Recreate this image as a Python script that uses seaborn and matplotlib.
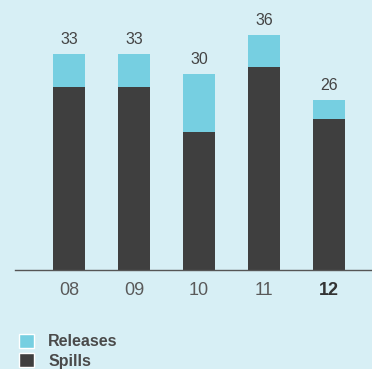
import matplotlib
matplotlib.use("Agg")
import matplotlib.pyplot as plt
import seaborn as sns
import pandas as pd
from matplotlib.patches import Patch

years = ["08", "09", "10", "11", "12"]
spills = [28, 28, 21, 31, 23]
releases = [5, 5, 9, 5, 3]
totals = [s + r for s, r in zip(spills, releases)]

BG = "#d7eff5"
LIGHT = "#76cfe1"
DARK = "#3f3f3f"

sns.set_theme(style="white")
plt.rcParams["font.family"] = ["Liberation Sans", "DejaVu Sans"]

df = pd.DataFrame({"year": years, "spills": spills, "releases": releases, "total": totals})

fig = plt.figure(figsize=(3.72, 3.69), dpi=100, facecolor=BG)
ax = fig.add_axes([15/372, (369-269.5)/369, 357/372, 261/369])
ax.set_facecolor(BG)

sns.barplot(data=df, x="year", y="total", color=LIGHT, width=0.49, saturation=1,
            linewidth=0, edgecolor="none", ax=ax)
sns.barplot(data=df, x="year", y="spills", color=DARK, width=0.49, saturation=1,
            linewidth=0, edgecolor="none", ax=ax)

ax.bar_label(ax.containers[0], labels=[str(t) for t in totals], padding=5,
             fontsize=11.5, color="#444444")

ax.set_ylim(0, 40)
ax.set_xlim(-0.83, 4.66)
ax.set_xlabel("")
ax.set_ylabel("")
ax.set_yticks([])
for s in ["top", "right", "left"]:
    ax.spines[s].set_visible(False)
ax.spines["bottom"].set_color("#555555")
ax.spines["bottom"].set_linewidth(1.0)
ax.tick_params(axis="x", length=0, pad=9, labelsize=13, labelcolor="#5a5a5a")
for lbl in ax.get_xticklabels():
    if lbl.get_text() == "12":
        lbl.set_fontweight("bold")
        lbl.set_color("#333333")

handles = [Patch(facecolor=LIGHT, label="Releases"), Patch(facecolor=DARK, label="Spills")]
fig.legend(handles=handles, loc="upper left", bbox_to_anchor=(6/372, 1 - 321/369),
           frameon=False, handlelength=0.95, handleheight=0.95,
           handletextpad=0.9, labelspacing=0.25, borderpad=0.3,
           prop={"family": ["Liberation Sans", "DejaVu Sans"], "weight": "bold", "size": 11.5},
           labelcolor="#4a4a4a")

fig.savefig("out.png", dpi=100, facecolor=BG)
